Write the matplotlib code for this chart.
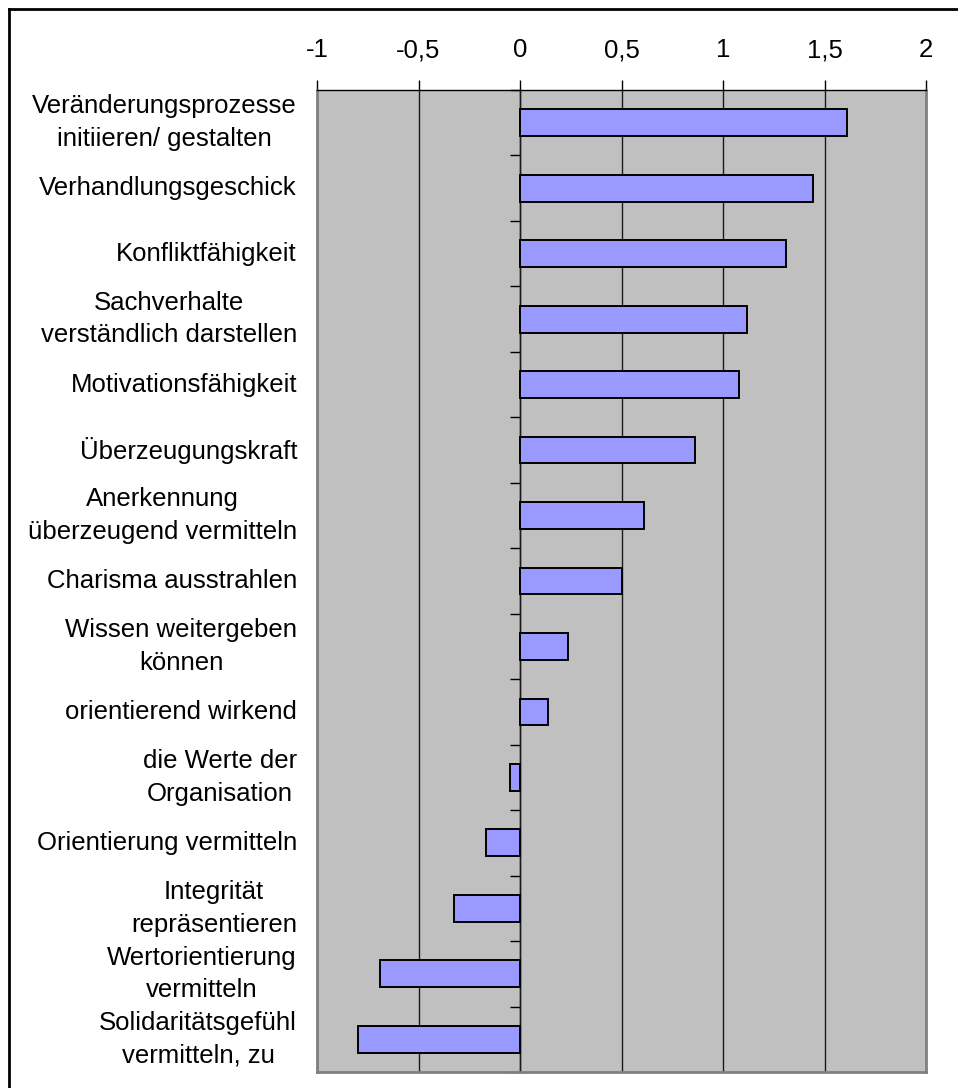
import matplotlib
matplotlib.use("Agg")
import matplotlib.pyplot as plt
from matplotlib.lines import Line2D
import numpy as np

plt.rcParams['font.family'] = ['Liberation Sans', 'DejaVu Sans']

categories = [
    "Veränderungsprozesse\ninitiieren/ gestalten",
    "Verhandlungsgeschick",
    "Konfliktfähigkeit",
    "Sachverhalte\nverständlich darstellen",
    "Motivationsfähigkeit",
    "Überzeugungskraft",
    "Anerkennung\nüberzeugend vermitteln",
    "Charisma ausstrahlen",
    "Wissen weitergeben\nkönnen",
    "orientierend wirkend",
    "die Werte der\nOrganisation",
    "Orientierung vermitteln",
    "Integrität\nrepräsentieren",
    "Wertorientierung\nvermitteln",
    "Solidaritätsgefühl\nvermitteln, zu",
]
values = [1.613, 1.445, 1.308, 1.12, 1.081, 0.862, 0.609, 0.501, 0.236, 0.138,
          -0.049, -0.167, -0.324, -0.688, -0.796]
xticks = [-1, -0.5, 0, 0.5, 1, 1.5, 2]
xticklabels = ["-1", "-0,5", "0", "0,5", "1", "1,5", "2"]

FS = 18.5

W, H = 958, 1088
fig = plt.figure(figsize=(W / 100, H / 100), dpi=100)
ax = fig.add_axes([317 / W, 1 - 1072 / H, 609 / W, 982 / H])
ax.set_facecolor('#C0C0C0')

n = len(categories)
pos = np.arange(n)
ax.barh(pos, values, height=0.41, color='#9999FF', edgecolor='black',
        linewidth=1.4, zorder=3)

ax.set_xlim(-1, 2)
ax.set_ylim(n - 0.5, -0.5)

# gridlines
ax.set_xticks(xticks)
ax.set_xticklabels(xticklabels, fontsize=FS)
ax.xaxis.tick_top()
ax.tick_params(axis='x', direction='out', length=7, width=1, color='black',
               pad=13)
ax.grid(axis='x', color='#1a1a1a', linewidth=1, zorder=1)
ax.set_axisbelow(True)

# category axis at x=0
ax.spines['left'].set_position(('data', 0))
ax.spines['left'].set_color('#1a1a1a')
ax.spines['left'].set_linewidth(1)
ax.set_yticks(pos)
ax.set_yticklabels([])
ax.tick_params(axis='y', which='major', length=0)
ax.set_yticks(np.arange(n + 1) - 0.5, minor=True)
ax.tick_params(axis='y', which='minor', direction='out', length=7, width=1,
               color='black')

for s in ['right', 'bottom']:
    ax.spines[s].set_color('#808080')
    ax.spines[s].set_linewidth(2)
ax.spines['top'].set_color('black')
ax.spines['top'].set_linewidth(1)

# left frame line of plot area (gray)
ax.add_artist(Line2D([0, 0], [0, 1], transform=ax.transAxes, color='#808080',
                     linewidth=2, clip_on=False, zorder=2))

trans = ax.get_yaxis_transform()
for i, lab in enumerate(categories):
    ax.text(-20 / 609, i, lab, transform=trans, ha='right', va='center',
            multialignment='center', fontsize=FS, linespacing=1.45)

# outer frame (left and top visible)
x0 = 8.5 / W
y0 = 1 - 8.5 / H
fig.add_artist(Line2D([x0, x0], [0, y0], transform=fig.transFigure,
                      color='black', linewidth=2))
fig.add_artist(Line2D([x0, 1], [y0, y0], transform=fig.transFigure,
                      color='black', linewidth=2))

fig.savefig('out.png', dpi=100)
